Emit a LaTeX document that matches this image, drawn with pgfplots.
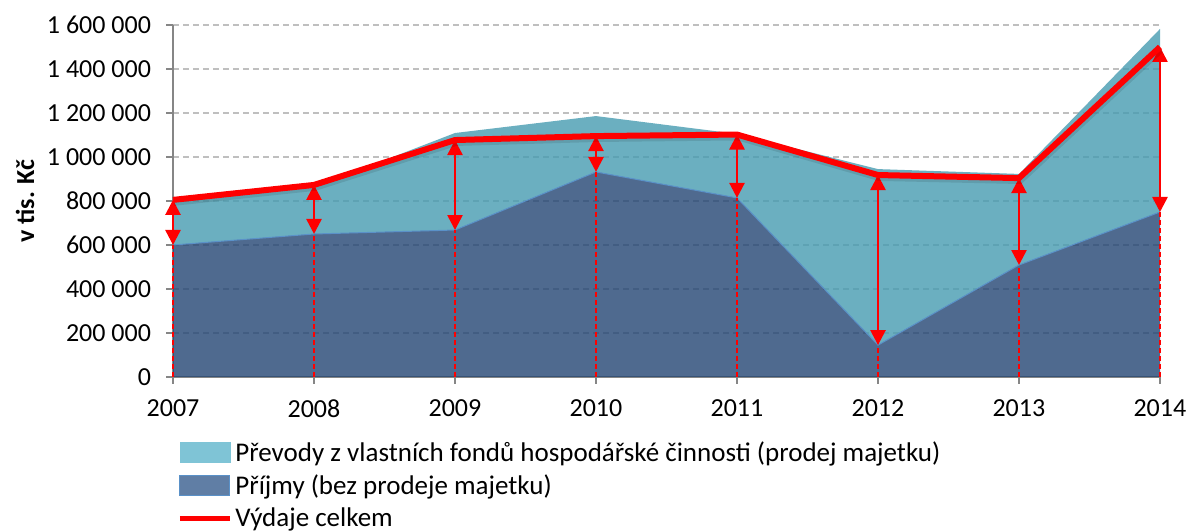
\documentclass[border=0pt]{standalone}
\usepackage{fontspec}
\setmainfont{Carlito}
\usepackage{pgfplots}
\usepackage{pgfplotstable}
\pgfplotsset{compat=1.18}
\usepgfplotslibrary{fillbetween}
\usetikzlibrary{arrows.meta}
\definecolor{lightA}{RGB}{70,155,176}
\definecolor{darkA}{RGB}{35,69,115}
\definecolor{legLight}{RGB}{127,196,214}
\definecolor{legDark}{RGB}{96,126,165}
\definecolor{edgeB}{RGB}{90,145,200}
\definecolor{gridc}{RGB}{191,191,191}
\definecolor{axisc}{RGB}{134,134,134}

\pgfplotstableread{
year prijmy total vydaje
2007 600000 795000 805000
2008 650000 862000 873000
2009 668000 1109000 1077000
2010 932000 1186000 1095000
2011 814000 1105000 1102000
2012 145000 945000 918000
2013 509000 923000 904000
2014 750000 1582000 1500000
}\data

\begin{document}
\begin{tikzpicture}
\begin{axis}[
  name=ax,
  scale only axis,
  clip=false,
  width=493.5pt, height=176pt,
  xmin=2007, xmax=2014,
  ymin=0, ymax=1600000,
  axis x line=bottom, axis y line=left,
  axis line style={-, draw=axisc, line width=0.75pt},
  xtick={2007,...,2014},
  xticklabels={2007,2008,2009,2010,2011,2012,2013,2014},
  ytick={0,200000,...,1600000},
  scaled ticks=false,
  /pgf/number format/assume math mode=true,
  yticklabel style={/pgf/number format/fixed, /pgf/number format/1000 sep={\hspace{0.226em}}, xshift=-4pt},
  xticklabel style={yshift=-4.5pt},
  tick align=outside,
  major tick length=3.5pt,
  tick style={draw=axisc, line width=0.75pt},
  ymajorgrids,
  grid style={draw=gridc, line width=0.75pt, dash pattern=on 3pt off 2pt},
  ticklabel style={font=\fontsize{13}{15}\selectfont},
  ylabel={\textbf{v tis. Kč}},
  ylabel style={at={(axis description cs:-0.15,0.5)}, anchor=center, font=\fontsize{13}{15}\selectfont},
  legend style={at={(axis description cs:0,0)}, anchor=north west, xshift=2pt, yshift=-30.5pt,
    draw=none, fill=none, inner sep=0pt, row sep=2.2pt,
    font=\fontsize{13.5}{15.5}\selectfont,
    nodes={inner sep=1.5pt}},
  legend cell align=left,
]
\addlegendimage{legend image code/.code={\fill[legLight] (0pt,-5pt) rectangle (25pt,5pt);}}
\addlegendentry{Převody z vlastních fondů hospodářské činnosti (prodej majetku)}
\addlegendimage{legend image code/.code={\filldraw[fill=legDark, draw=edgeB, line width=0.5pt] (0pt,-5pt) rectangle (25pt,5pt);}}
\addlegendentry{Příjmy (bez prodeje majetku)}
\addlegendimage{legend image code/.code={\draw[red, line width=2.5pt] (0pt,0pt) -- (25pt,0pt);}}
\addlegendentry{Výdaje celkem}

\addplot[name path=P, draw=none, forget plot] table[x=year, y=prijmy]{\data};
\addplot[name path=T, draw=none, forget plot] table[x=year, y=total]{\data};
\addplot[name path=B, draw=none, forget plot] coordinates {(2007,0) (2014,0)};
\addplot[fill=lightA, fill opacity=0.8, draw=none, forget plot] fill between[of=T and P];
\addplot[fill=darkA, fill opacity=0.8, draw=none, forget plot] fill between[of=P and B];
\addplot[edgeB, line width=0.5pt, forget plot] table[x=year, y=prijmy]{\data};
\addplot[ycomb, red, line width=0.6pt, dash pattern=on 2.5pt off 1.5pt, forget plot] table[x=year, y=prijmy]{\data};
\addplot[red, line width=1.25pt, {Triangle[width=7.5pt,length=7.5pt]}-{Triangle[width=7.5pt,length=7.5pt]},
  quiver={u=0, v=\thisrow{prijmy}-\thisrow{vydaje}}, forget plot] table[x=year, y=vydaje]{\data};
\addplot[black, opacity=0.1, line width=3.5pt, shift={(0.5pt,-1.2pt)}, forget plot] table[x=year, y=vydaje]{\data};
\addplot[red, line width=3pt, forget plot] table[x=year, y=vydaje]{\data};
\end{axis}
\pgfresetboundingbox
\path ([shift={(-86.5pt,-77.5pt)}]ax.south west) rectangle ([shift={(14.5pt,12.5pt)}]ax.north east);
\end{tikzpicture}
\end{document}
